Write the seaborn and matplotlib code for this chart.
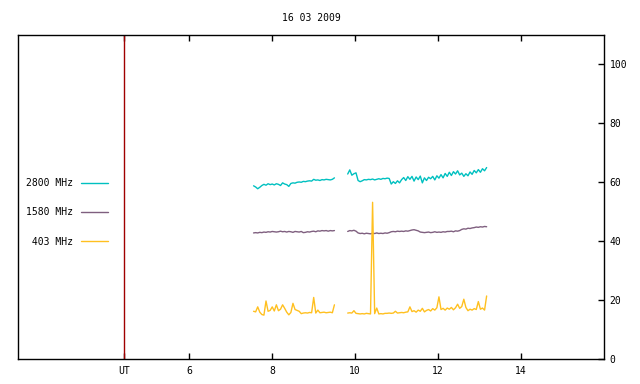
import numpy as np
import pandas as pd
import seaborn as sns
import matplotlib
matplotlib.use("Agg")
import matplotlib.pyplot as plt

# sampling of the two observing runs (hours UT)
seg1_start = 7.55
seg2_start = 9.82
step = 0.05

f2800_a = [58.8, 58.4, 57.8, 58.3, 58.9, 59.3, 59.0, 59.5, 59.2, 59.4,
           59.1, 59.5, 59.3, 58.9, 59.8, 59.4, 59.2, 58.6, 59.6, 59.8,
           59.7, 60.0, 60.1, 60.0, 60.3, 60.2, 60.4, 60.5, 60.4, 61.0,
           60.7, 60.8, 60.6, 60.9, 60.8, 61.0, 60.9, 60.8, 61.0, 61.5]
f2800_b = [62.8, 64.2, 62.4, 62.9, 63.2, 60.6, 60.2, 60.5, 60.9, 60.8,
           61.0, 60.9, 61.1, 60.8, 61.0, 61.2, 61.0, 61.3, 61.2, 61.4,
           61.3, 59.4, 60.2, 59.6, 60.5, 59.8, 60.9, 61.6, 60.6, 61.9,
           61.0, 62.0, 60.4, 61.8, 60.9, 62.1, 59.8, 61.5, 60.6, 61.7,
           61.2, 62.0, 60.8, 62.2, 61.4, 62.6, 61.5, 63.0, 62.0, 63.4,
           62.3, 63.6, 62.8, 63.9, 62.5, 63.1, 62.0, 62.9, 62.2, 63.5,
           62.7, 64.0, 63.2, 64.3, 63.4, 64.6, 63.9, 65.0]

f1580_a = [42.8, 42.9, 42.8, 43.0, 42.9, 43.1, 43.0, 43.2, 43.1, 43.3,
           43.2, 43.1, 43.2, 43.4, 43.2, 43.3, 43.1, 43.3, 43.2, 43.0,
           43.3, 43.2, 43.1, 43.3, 42.9, 43.0, 43.2, 43.1, 43.3, 43.4,
           43.2, 43.5, 43.4, 43.6, 43.5, 43.6, 43.4, 43.6, 43.5, 43.6]
f1580_b = [43.3, 43.6, 43.5, 43.7, 43.4,
           42.8, 42.6, 42.7, 42.5, 42.7, 42.6, 42.5, 42.7, 42.6, 42.8,
           42.6, 42.7, 42.6, 42.8, 42.7, 42.9,
           43.2, 43.3, 43.2, 43.4, 43.3, 43.4, 43.3, 43.5, 43.4, 43.6,
           43.8, 43.9, 43.7, 43.5,
           43.1, 43.0, 42.9, 43.0, 43.1, 42.9, 43.0, 43.2, 43.0, 43.1,
           43.0, 43.2, 43.1, 43.3,
           43.3, 43.4, 43.2, 43.5, 43.4, 43.6,
           44.0, 44.2, 44.1, 44.4, 44.3, 44.5,
           44.6, 44.8, 44.7, 44.9, 44.8, 45.0, 44.9]

f403_a = [16.2, 16.0, 17.7, 15.9, 15.1, 14.9, 19.7, 16.2, 16.5, 17.7,
          16.3, 18.4, 16.4, 16.9, 18.4, 17.2, 15.9, 15.0, 15.8, 18.9,
          16.8, 16.5, 16.2, 15.4, 15.6, 15.7, 15.6, 15.8, 15.7, 20.9,
          15.6, 16.6, 15.7, 15.8, 15.9, 15.7, 15.8, 15.9, 15.7, 18.4]
f403_b = [15.6, 15.7, 15.6, 16.4, 15.5, 15.4, 15.3, 15.4, 15.3, 15.5,
          15.4, 15.3, 53.2, 15.4, 17.3, 15.3, 15.4, 15.3, 15.5, 15.5,
          15.6, 15.5, 15.6, 16.2, 15.6, 15.7, 15.8, 15.7, 15.9, 16.0,
          17.7, 16.1, 16.4, 15.9, 16.6, 16.2, 17.2, 16.0, 16.5, 16.8,
          16.3, 17.1, 16.6, 17.4, 21.1, 16.8, 17.2, 16.6, 17.3, 16.9,
          17.5, 16.7, 17.4, 18.6, 17.2, 17.8, 20.3, 17.5, 16.4, 16.9,
          16.6, 17.1, 16.8, 19.5, 16.9, 17.3, 16.6, 21.4]

bands = ["2800 MHz", "1580 MHz", " 403 MHz"]
colors = ["#00c0c0", "#7f5f7f", "#ffc020"]
ut_marker = 4.43
xtick_vals = [ut_marker, 6, 8, 10, 12, 14]
xtick_labels = ["UT", "6", "8", "10", "12", "14"]
ytick_vals = [0, 20, 40, 60, 80, 100]
title = "16 03 2009"


def build_frame():
    rows = []
    series = [(bands[0], f2800_a, f2800_b),
              (bands[1], f1580_a, f1580_b),
              (bands[2], f403_a, f403_b)]
    for band, a, b in series:
        for seg, (start, vals) in enumerate([(seg1_start, a), (seg2_start, b)]):
            t = start + step * np.arange(len(vals))
            for hour, v in zip(t, vals):
                rows.append({"band": band, "seg": seg, "hour": hour, "value": v})
    return pd.DataFrame(rows)


sns.set_style("white")
plt.rcParams["font.family"] = ["DejaVu Sans Mono", "DejaVu Sans"]
plt.rcParams["font.size"] = 7
plt.rcParams["text.color"] = "black"
plt.rcParams["xtick.color"] = "black"
plt.rcParams["ytick.color"] = "black"

fig = plt.figure(figsize=(6.4, 3.84), dpi=100)
ax = fig.add_axes([18 / 640, 1 - 359 / 384, 586 / 640, 324 / 384])

df = build_frame()
sns.lineplot(data=df, x="hour", y="value", hue="band", units="seg",
             estimator=None, hue_order=bands, palette=colors,
             linewidth=1, ax=ax, sort=False)

ax.axvline(ut_marker, color="#a00000", linewidth=1)

ax.set_xlim(1.87, 16.0)
ax.set_ylim(0, 110)
ax.set_xlabel("")
ax.set_ylabel("")

ax.set_xticks(xtick_vals)
ax.set_xticklabels(xtick_labels)
ax.set_yticks(ytick_vals)
ax.yaxis.tick_right()
ax.tick_params(axis="x", direction="in", top=True, bottom=True, length=4,
               width=1, pad=5, labelsize=7, colors="black")
ax.tick_params(axis="y", direction="in", left=False, right=True, length=4,
               width=1, pad=4, labelsize=7, colors="black")
for s in ax.spines.values():
    s.set_color("black")
    s.set_linewidth(1)

fig.text(311 / 640, 1 - 18 / 384, title, ha="center", va="center",
         fontsize=7, color="black")

handles, labels = ax.get_legend_handles_labels()
leg = ax.legend(handles, labels, loc="upper left", frameon=False,
                bbox_to_anchor=(26 / 640, 1 - 178 / 384), bbox_transform=fig.transFigure,
                markerfirst=False, handlelength=2.8, handletextpad=0.8,
                labelspacing=2.0, borderpad=0, borderaxespad=0, fontsize=7)
for t in leg.get_texts():
    t.set_color("black")

fig.savefig("out.png", dpi=100)
